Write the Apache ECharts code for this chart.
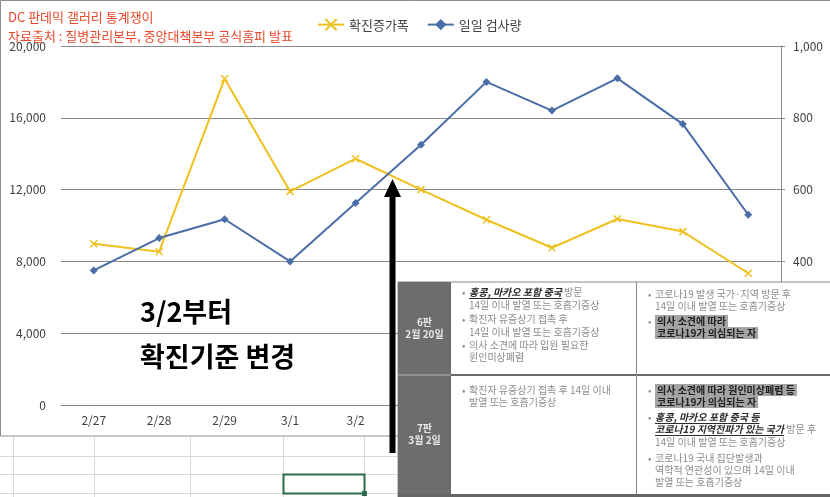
<!DOCTYPE html>
<html><head><meta charset="utf-8">
<script src="https://cdn.jsdelivr.net/npm/echarts@6/dist/echarts.min.js"></script>
<style>html,body{margin:0;padding:0;background:#fff}#c{width:830px;height:497px}</style>
</head><body><div id="c"></div>
<script>
// ---- data ----
const categories = ['2/27','2/28','2/29','3/1','3/2','3/3','3/4','3/5','3/6','3/7','3/8'];
const confirmedIncrease = [449,427,909,595,686,600,516,438,518,483,367];       // 확진증가폭 (right axis)
const dailyTests = [7500,9300,10350,8000,11250,14500,18000,16400,18200,15650,10600]; // 일일 검사량 (left axis)
const leftAxisRange = [0, 20000, 4000];
const rightAxisRange = [0, 1000, 200];
const seriesNames = ['확진증가폭', '일일 검사량'];
const titleLines = ['DC 판데믹 갤러리 통계쟁이', '자료출처 : 질병관리본부, 중앙대책본부 공식홈피 발표'];
const noteLines = ['3/2부터', '확진기준 변경'];
const versionLabels = [['6판','2월 20일'], ['7판','3월 2일']];
// table cells: each line [hasBullet, richText]
const cellTopLeft = [
  [1,'{u|홍콩, 마카오 포함 중국}\u00a0방문'],
  [0,'14일 이내 발열 또는 호흡기증상'],
  [1,'확진자 유증상기 접촉 후'],
  [0,'14일 이내 발열 또는 호흡기증상'],
  [1,'의사 소견에 따라 입원 필요한'],
  [0,'원인미상폐렴']
];
const cellTopRight = [
  [1,'코로나19 발생 국가·지역 방문 후'],
  [0,'14일 이내 발열 또는 호흡기증상'],
  [1,'{h|의사 소견에 따라}'],
  [0,'{h|코로나19가 의심되는 자}']
];
const cellBottomLeft = [
  [1,'확진자 유증상기 접촉 후 14일 이내'],
  [0,'발열 또는 호흡기증상']
];
const cellBottomRight = [
  [1,'{h|의사 소견에 따라 원인미상폐렴 등}'],
  [0,'{h|코로나19가 의심되는 자}'],
  [1,'{u|홍콩, 마카오 포함 중국 등}'],
  [0,'{u|코로나19 지역전파가 있는 국가}\u00a0방문 후'],
  [0,'14일 이내 발열 또는 호흡기증상'],
  [1,'코로나19 국내 집단발생과'],
  [0,'역학적 연관성이 있으며 14일 이내'],
  [0,'발열 또는 호흡기증상']
];

// ---- drawing ----
const FONT = '"Noto Sans CJK KR", "Noto Sans", sans-serif';
const chart = echarts.init(document.getElementById('c'));
const fmt = v => v.toLocaleString('en-US');

const CELL_FS = 10;
const RICH = {
  u: {fontWeight:'bold', fontStyle:'italic', fill:'#2a2a2a', color:'#2a2a2a', fontSize:CELL_FS, fontFamily:FONT},
  h: {fontWeight:'bold', fill:'#1e1e1e', color:'#1e1e1e', backgroundColor:'#a4a4a4', padding:[1,2,1,2], fontSize:CELL_FS, fontFamily:FONT}
};
const mctx = document.createElement('canvas').getContext('2d');
function measure(t, bold, italic){
  mctx.font = (italic?'italic ':'') + (bold?'bold ':'') + CELL_FS + 'px ' + FONT;
  return mctx.measureText(t).width;
}

const g = [];
// spreadsheet grid below chart
[456, 474, 493].forEach(y => g.push({type:'line', z:-1, shape:{x1:0,y1:y+0.5,x2:398,y2:y+0.5}, style:{stroke:'#d8d8d8', lineWidth:1}}));
[13, 94, 190, 283, 364].forEach(x => g.push({type:'line', z:-1, shape:{x1:x+0.5,y1:437,x2:x+0.5,y2:497}, style:{stroke:'#d8d8d8', lineWidth:1}}));
g.push({type:'rect', z:1, shape:{x:283.5,y:474.5,width:81,height:19}, style:{fill:'none', stroke:'#2d6b4a', lineWidth:2}});
g.push({type:'rect', z:1, shape:{x:362,y:491,width:5,height:5}, style:{fill:'#2d6b4a'}});
// chart border
g.push({type:'rect', z:-1, shape:{x:0.5,y:0.5,width:900,height:435.5}, style:{fill:'none', stroke:'#8c8c8c', lineWidth:1}});

// annotation text
g.push({type:'text', z:50, x:140, y:312, style:{text:noteLines[0], font:'bold 27px ' + FONT, fill:'#000', verticalAlign:'middle'}});
g.push({type:'text', z:50, x:140, y:357, style:{text:noteLines[1], font:'bold 27px ' + FONT, fill:'#000', verticalAlign:'middle'}});
// arrow
g.push({type:'polygon', z:60, shape:{points:[[389.5,453],[389.5,197],[384,197],[392.5,179],[401,197],[395.5,197],[395.5,453]]}, style:{fill:'#000'}});

// table overlay
const T = {x0:398, y0:282, x1:830, y1:497, colX:451, midX:636, rowY:375};
g.push({type:'rect', z:100, shape:{x:T.x0,y:T.y0,width:T.x1-T.x0+10,height:T.y1-T.y0+5}, style:{fill:'#ffffff', stroke:'#8a8a8a', lineWidth:1}});
g.push({type:'rect', z:101, shape:{x:T.x0,y:T.y0,width:T.colX-T.x0,height:T.y1-T.y0}, style:{fill:'#6d6d6d'}});
g.push({type:'line', z:102, shape:{x1:T.colX,y1:T.rowY,x2:T.x1,y2:T.rowY}, style:{stroke:'#6a6a6a', lineWidth:2}});
g.push({type:'line', z:102, shape:{x1:T.x0,y1:T.rowY,x2:T.colX,y2:T.rowY}, style:{stroke:'#9c9c9c', lineWidth:1.5}});
g.push({type:'line', z:102, shape:{x1:T.midX+0.5,y1:T.y0,x2:T.midX+0.5,y2:494}, style:{stroke:'#8a8a8a', lineWidth:1}});
g.push({type:'line', z:102, shape:{x1:T.x0,y1:495.5,x2:T.x1,y2:495.5}, style:{stroke:'#666', lineWidth:3}});
// version labels
const vx = (T.x0 + T.colX) / 2;
[[322,334],[428,440]].forEach((ys, i) => {
  g.push({type:'text', z:103, x:vx, y:ys[0], style:{text:versionLabels[i][0], font:'bold 10px ' + FONT, fill:'#e8e8e8', align:'center', verticalAlign:'middle'}});
  g.push({type:'text', z:103, x:vx, y:ys[1], style:{text:versionLabels[i][1], font:'bold 10px ' + FONT, fill:'#e8e8e8', align:'center', verticalAlign:'middle'}});
});
function cell(lines, bx, tx, ys){
  lines.forEach((ln, i) => {
    const y = ys[i];
    if (ln[0]) g.push({type:'text', z:104, x:bx, y:y, style:{text:'•', fontSize:CELL_FS, fontFamily:FONT, fill:'#8c8c8c', verticalAlign:'middle'}});
    g.push({type:'text', z:104, x:tx, y:y, style:{text:ln[1], fontSize:CELL_FS, fontFamily:FONT, fill:'#8c8c8c', verticalAlign:'middle', rich:RICH}});
    const m = ln[1].match(/^\{u\|([^}]*)\}/);
    if (m) {
      const w = measure(m[1], true, true);
      g.push({type:'line', z:104, shape:{x1:tx, y1:y+6.5, x2:tx+w, y2:y+6.5}, style:{stroke:'#2a2a2a', lineWidth:1}});
    }
  });
}
cell(cellTopLeft, 462, 469, [292,305,319,332,345,357]);
cell(cellTopRight, 648, 655, [294,306,321,333]);
cell(cellBottomLeft, 462, 469, [390,402]);
cell(cellBottomRight, 648, 655, [390,402,417,429,442,458,470,482]);

const axisLabel = {fontSize:12, color:'#404040', fontFamily:FONT};
chart.setOption({
  animation:false,
  backgroundColor:'#ffffff',
  title:{text:titleLines.join('\n'), left:3, top:3, textStyle:{fontSize:13, lineHeight:19, fontWeight:'normal', color:'#e9482a', fontFamily:FONT}},
  legend:{left:312, top:13, itemWidth:26, itemHeight:14, itemGap:18, textStyle:{fontSize:13, color:'#404040', fontFamily:FONT}, data:seriesNames},
  grid:{left:61, right:49, top:46, bottom:92, containLabel:false},
  xAxis:{type:'category', data:categories, boundaryGap:true,
    axisLine:{show:true, lineStyle:{color:'#8a8a8a'}}, axisTick:{show:false},
    axisLabel:Object.assign({margin:9}, axisLabel)},
  yAxis:[
    {type:'value', min:leftAxisRange[0], max:leftAxisRange[1], interval:leftAxisRange[2], position:'left',
      axisLine:{show:false}, axisTick:{show:false},
      axisLabel:Object.assign({margin:15, formatter:fmt}, axisLabel),
      splitLine:{show:true, lineStyle:{color:'#8a8a8a', width:1}}},
    {type:'value', min:rightAxisRange[0], max:rightAxisRange[1], interval:rightAxisRange[2], position:'right',
      axisLine:{show:true, lineStyle:{color:'#8a8a8a'}}, axisTick:{show:true, length:4, lineStyle:{color:'#8a8a8a'}},
      axisLabel:Object.assign({margin:12, formatter:fmt}, axisLabel),
      splitLine:{show:false}}
  ],
  series:[
    {name:seriesNames[0], type:'line', yAxisIndex:1, data:confirmedIncrease,
      symbol:'path://M0,0L10,10M10,0L0,10', symbolSize:7,
      lineStyle:{color:'#efc120', width:2}, itemStyle:{color:'#efc120', borderColor:'#efc120', borderWidth:1.5}, z:3},
    {name:seriesNames[1], type:'line', yAxisIndex:0, data:dailyTests,
      symbol:'diamond', symbolSize:8,
      lineStyle:{color:'#4a6da7', width:2}, itemStyle:{color:'#4a6da7'}, z:4}
  ],
  graphic:g
});
</script></body></html>
